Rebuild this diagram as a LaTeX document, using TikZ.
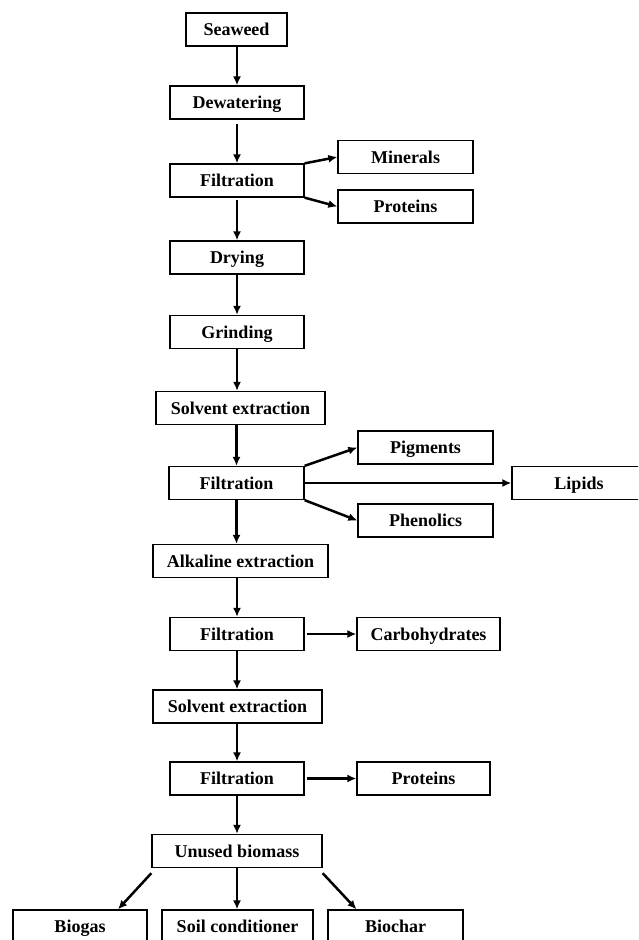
\documentclass[tikz,border=0pt]{standalone}
\usepackage{fontspec}
\setmainfont{Liberation Serif}
\usetikzlibrary{
    arrows.meta,            % Latex arrow tips.
    positioning
}

\tikzset{
    stage/.style={draw, line width=1.3pt, inner sep=0pt, minimum height=33pt,
        text height=12pt, text depth=0pt,
        font=\fontsize{18}{20}\selectfont\bfseries},
    flow/.style={->, line width=2.5pt}
}

\begin{document}
\begin{tikzpicture}[>={Latex[length=9pt,width=8pt]}, x=1pt, y=-1pt]
                \useasboundingbox (0,0) rectangle (638,940);
                \clip (0,0) rectangle (638,940);
                % main line
                \node[stage, minimum width=101pt] (sw)  at (236.5, 29.5) {Seaweed};
                \node[stage, minimum width=134pt] (dw)  at (237, 102.5)  {Dewatering};
                \node[stage, minimum width=134pt] (f1)  at (237, 180.5)  {Filtration};
                \node[stage, minimum width=134pt] (dry) at (237, 257.5)  {Drying};
                \node[stage, minimum width=134pt] (gr)  at (237, 332)    {Grinding};
                \node[stage, minimum width=169pt] (se1) at (240.5, 408)  {Solvent extraction};
                \node[stage, minimum width=135pt] (f2)  at (236.5, 483)  {Filtration};
                \node[stage, minimum width=175pt] (ae)  at (240.5, 561)  {Alkaline extraction};
                \node[stage, minimum width=134pt] (f3)  at (237, 634)    {Filtration};
                \node[stage, minimum width=169pt] (se2) at (237.5, 706.5) {Solvent extraction};
                \node[stage, minimum width=134pt] (f4)  at (237, 778.5)  {Filtration};
                \node[stage, minimum width=170pt] (ub)  at (237, 851)    {Unused biomass};
                % products
                \node[stage, minimum width=135pt] (min)  at (405.5, 157)   {Minerals};
                \node[stage, minimum width=135pt] (pr1)  at (405.5, 206.5) {Proteins};
                \node[stage, minimum width=135pt] (pig)  at (425.5, 447.5) {Pigments};
                \node[stage, minimum width=134pt] (lip)  at (579, 483)     {Lipids};
                \node[stage, minimum width=135pt] (phe)  at (425.5, 520.5) {Phenolics};
                \node[stage, minimum width=143pt] (carb) at (428.5, 634)   {Carbohydrates};
                \node[stage, minimum width=133pt] (pr2)  at (423.5, 778.5) {Proteins};
                \node[stage, minimum width=134pt] (bg)   at (80, 926.5)    {Biogas};
                \node[stage, minimum width=151pt] (soil) at (237.5, 926.5) {Soil conditioner};
                \node[stage, minimum width=135pt] (bc)   at (395.5, 926.5) {Biochar};

                \draw[flow] (sw.south -| dw) to (dw.north);
                \draw[flow] ([yshift=-4pt]dw.south) to (f1.north);
                \draw[flow] ([yshift=-2pt]f1.south) to (dry.north);
                \draw[flow] (dry.south) to (gr.north);
                \draw[flow] (gr.south) to (gr.south |- se1.north);
                \draw[flow] (se1.south -| f2) to (f2.north);
                \draw[flow] (f2.south) to (f2.south |- ae.north);
                \draw[flow] (ae.south -| f3) to (f3.north);
                \draw[flow] (f3.south) to (f3.south |- se2.north);
                \draw[flow] (se2.south -| f4) to (f4.north);
                \draw[flow] (f4.south) to (ub.north);

                \draw[flow] (f1.north east) to (min.west);
                \draw[flow] (f1.south east) to (pr1.west);
                \draw[flow] (f2.north east) to (pig.west);
                \draw[flow] (f2.east) to (lip.west);
                \draw[flow] (f2.south east) to (phe.west);
                \draw[flow] ([xshift=2pt]f3.east) to (carb.west);
                \draw[flow] ([xshift=2pt]f4.east) to (pr2.west);

                \draw[flow] ([yshift=-5pt]ub.south west) to ([xshift=38pt]bg.north);
                \draw[flow] (ub.south) to (soil.north -| ub);
                \draw[flow] ([yshift=-5pt]ub.south east) to ([xshift=-39pt]bc.north);
            \end{tikzpicture}
\end{document}
